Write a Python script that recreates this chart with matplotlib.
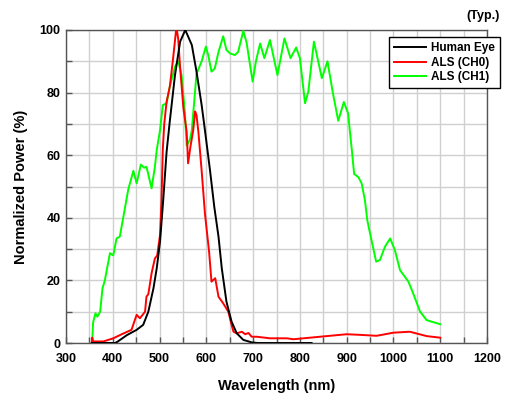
import numpy as np
import matplotlib.pyplot as plt

plt.rcParams['font.family'] = ['Liberation Sans', 'DejaVu Sans']
plt.rcParams['font.weight'] = 'bold'

# Human eye response
eye_wl = [355, 405, 410, 430, 451, 465, 476, 487, 494, 501, 508, 515, 522, 533, 544,
          555, 569, 579, 590, 597, 608, 617, 626, 633, 643, 654, 665, 679, 697, 710, 825]
eye = [0, 0, 0.4, 2.5, 4.2, 5.8, 10, 17.5, 23.9, 32.4, 46, 61, 71, 85.6, 96.3,
       100, 95.2, 86.7, 76, 68, 55, 43.5, 34, 23.9, 13.2, 6.8, 3.1, 1, 0.2, 0, 0]

# ALS channel 0
ch0_wl = [355, 356, 358, 380, 401, 422, 440, 451, 458, 469, 472, 476, 483, 490, 495,
          501, 504, 507, 510, 515, 522, 529, 535, 537, 540, 544, 551, 558, 561, 566,
          572, 576, 579, 583, 590, 597, 606, 611, 619, 626, 636, 647, 654, 658, 665,
          676, 683, 690, 697, 708, 736, 772, 786, 829, 857, 900, 929, 964, 1000, 1035,
          1071, 1100]
ch0 = [0, 1.7, 0.5, 0.5, 1.5, 3, 4.2, 9, 7.9, 10, 14.8, 15.6, 22.3, 27, 28,
       34.5, 45, 62, 70, 77, 82, 91, 99.5, 100, 97, 88, 75, 67.5, 57.4, 62.7,
       68, 74, 72.8, 67.5, 55, 41.4, 29, 19.6, 20.7, 14.8, 12.7, 10, 5.8, 3.6, 3.1,
       3.6, 2.8, 3.2, 2, 2, 1.5, 1.5, 1.2, 1.8, 2.2, 2.8, 2.6, 2.3, 3.3, 3.6,
       2.2, 1.7]

# ALS channel 1
ch1_wl = [355, 356, 358, 363, 367, 373, 378, 383, 394, 401, 408, 415, 422, 433, 444,
          451, 460, 467, 472, 483, 490, 494, 501, 507, 515, 522, 533, 540, 547, 554,
          558, 565, 569, 579, 590, 599, 604, 611, 618, 626, 636, 643, 651, 661, 668,
          679, 686, 699, 706, 715, 724, 736, 752, 767, 780, 792, 800, 811, 818, 830,
          847, 859, 870, 882, 894, 903, 907, 911, 916, 925, 932, 939, 944, 950, 963,
          971, 982, 993, 1003, 1014, 1032, 1042, 1057, 1071, 1100]
ch1 = [0, 0.4, 6.6, 9.5, 8.4, 10, 17.5, 20, 28.7, 28, 33.4, 34, 39.8, 49, 55,
       51, 57, 56, 56.3, 49.4, 56.3, 61.7, 68, 76, 76.6, 82, 88.3, 90, 85.6, 74,
       63, 65, 68, 86, 90, 94.7, 92, 86.7, 87.7, 93, 98, 93.6, 92.5, 92, 93,
       99.7, 96, 83.5, 90, 95.7, 91, 96.8, 85.6, 97.3, 91, 94.4, 91, 76.6, 80.3, 96.3,
       84.6, 90, 80.3, 71, 77, 73.4, 67.5, 61.7, 54, 53, 51, 45.7, 39.3, 35, 26,
       26.5, 30.8, 33.4, 29.7, 23.3, 19.6, 15.9, 10, 7.3, 6]

fig = plt.figure(figsize=(5.11, 3.96), dpi=100)
ax = fig.add_axes([66/511, 1 - 343/396, 421/511, 313/396])

ax.plot(eye_wl, eye, color='black', lw=1.4, label='Human Eye', zorder=5,
        solid_joinstyle='round')
ax.plot(ch0_wl, ch0, color='#ff0000', lw=1.4, label='ALS (CH0)', zorder=4,
        solid_joinstyle='round')
ax.plot(ch1_wl, ch1, color='#00ff00', lw=1.4, label='ALS (CH1)', zorder=3,
        solid_joinstyle='round')

ax.set_xlim(300, 1200)
ax.set_ylim(0, 100)
ax.set_xticks(np.arange(300, 1201, 100))
ax.set_xticks(np.arange(350, 1200, 100), minor=True)
ax.set_yticks(np.arange(0, 101, 20))
ax.set_yticks(np.arange(10, 100, 20), minor=True)
ax.grid(True, which='both', color='#d0d0d0', lw=1)
ax.set_axisbelow(True)
ax.tick_params(which='both', direction='in', length=4, width=1, color='#555555',
               labelsize=9)
ax.tick_params(axis='x', pad=7)
ax.tick_params(axis='y', pad=4)
for lab in ax.get_xticklabels() + ax.get_yticklabels():
    lab.set_fontweight('bold')
for s in ax.spines.values():
    s.set_color('#555555')
    s.set_linewidth(1)

ax.set_xlabel('Wavelength (nm)', fontsize=10.5, fontweight='bold', labelpad=10)
ax.set_ylabel('Normalized Power (%)', fontsize=10.5, fontweight='bold', labelpad=8)
fig.text(500/511, 1 - 16/396, '(Typ.)', ha='right', va='center', fontsize=9,
         fontweight='bold')

leg = ax.legend(loc='upper right', bbox_to_anchor=(500/511, 1 - 37/396),
                bbox_transform=fig.transFigure, borderaxespad=0, fancybox=False,
                framealpha=1, edgecolor='black', prop={'size': 8.5, 'weight': 'bold'},
                handlelength=2.7, labelspacing=0.2, borderpad=0.45, handletextpad=0.4)
leg.get_frame().set_linewidth(1)
leg.set_zorder(10)

fig.savefig('out.png', dpi=100)
